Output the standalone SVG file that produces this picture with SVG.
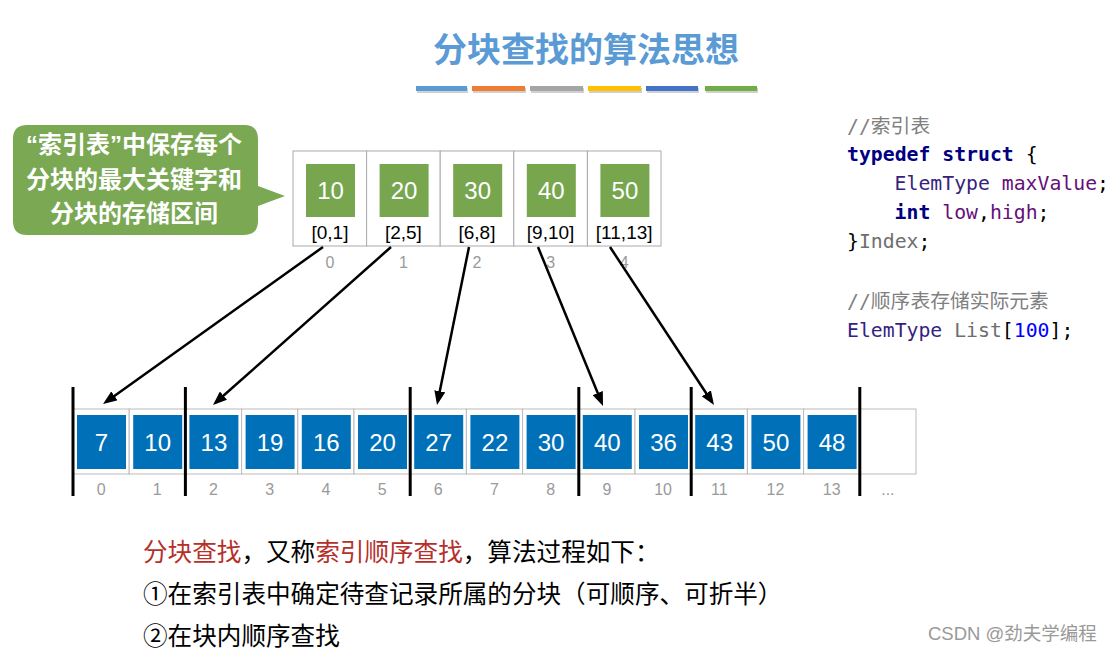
<svg xmlns="http://www.w3.org/2000/svg" width="1114" height="652" viewBox="0 0 1114 652">
<style>
.title{font-family:"Noto Sans CJK SC","Noto Sans",sans-serif;font-weight:bold;font-size:34px;fill:#5B9BD5}
.call{font-family:"Noto Sans CJK SC","Noto Sans",sans-serif;font-weight:bold;font-size:24px;fill:#fff}
.q{font-family:"Liberation Sans","Noto Sans",sans-serif}
.icell{fill:#fff;stroke:#AAAAAA;stroke-width:1}
.gsq{fill:#77A64F}
.bsq{fill:#0071B9}
.wnum{font-family:"Liberation Sans","Noto Sans",sans-serif;font-size:24px;fill:#fff;text-anchor:middle}
.rng{font-family:"Liberation Sans","Noto Sans",sans-serif;font-size:19px;fill:#000;text-anchor:middle}
.idx{font-family:"Liberation Sans","Noto Sans",sans-serif;font-size:16px;fill:#9A9A9A;text-anchor:middle}
.acell{fill:#fff;stroke:#BBBBBB;stroke-width:1}
.bar{stroke:#000;stroke-width:3}
.arr{stroke:#000;stroke-width:2.5;fill:none;marker-end:url(#ah)}
.code{font-family:"DejaVu Sans Mono","Noto Sans CJK SC",monospace;font-size:19.8px}
.cm{fill:#808080}
.kw{fill:#000080;font-weight:bold}
.ty{fill:#371F80}
.fd{fill:#660E7A}
.gr{fill:#6E6E6E}
.bk{fill:#000}
.nm{fill:#0000FF}
.txt{font-family:"Noto Sans CJK SC","Noto Sans",sans-serif;font-size:24.6px;fill:#000}
.red{fill:#B5302A}
.wm{font-family:"Liberation Sans","Noto Sans CJK SC",sans-serif;font-size:18.5px;fill:#999}
</style>
<defs>
<marker id="ah" markerUnits="userSpaceOnUse" markerWidth="14" markerHeight="11" refX="10" refY="5.5" orient="auto">
<path d="M0,0 L14,5.5 L0,11 z" fill="#000"/>
</marker>
</defs>
<rect width="1114" height="652" fill="#fff"/>

<g id="title">
<text class="title" x="586" y="62" text-anchor="middle">分块查找的算法思想</text>
<g fill="#D0D0D0">
<rect x="417" y="88" width="51" height="5"/><rect x="473" y="88" width="53" height="5"/><rect x="531" y="88" width="53" height="5"/><rect x="589" y="88" width="53" height="5"/><rect x="647" y="88" width="52" height="5"/><rect x="706" y="88" width="52" height="5"/>
</g>
<rect x="416" y="86" width="51" height="5" fill="#5B9BD5"/>
<rect x="472" y="86" width="53" height="5" fill="#ED7D31"/>
<rect x="530" y="86" width="53" height="5" fill="#A5A5A5"/>
<rect x="588" y="86" width="53" height="5" fill="#FFC000"/>
<rect x="646" y="86" width="52" height="5" fill="#4472C4"/>
<rect x="705" y="86" width="52" height="5" fill="#70AD47"/>
</g>

<g id="callout">
<path d="M27,125 H244 Q258,125 258,139 V186 L285,196 L258,206 V221 Q258,235 244,235 H27 Q13,235 13,221 V139 Q13,125 27,125 Z" fill="#7AA853"/>
<text class="call" x="134" y="153" text-anchor="middle"><tspan class="q">“</tspan>索引表<tspan class="q">”</tspan>中保存每个</text>
<text class="call" x="134" y="188" text-anchor="middle">分块的最大关键字和</text>
<text class="call" x="134" y="222" text-anchor="middle">分块的存储区间</text>
</g>

<g id="index-table">
<rect class="icell" x="293" y="151" width="73.6" height="95"/>
<rect class="icell" x="366.6" y="151" width="73.6" height="95"/>
<rect class="icell" x="440.2" y="151" width="73.6" height="95"/>
<rect class="icell" x="513.8" y="151" width="73.6" height="95"/>
<rect class="icell" x="587.4" y="151" width="73.6" height="95"/>
<rect class="gsq" x="306" y="164" width="49" height="53"/>
<rect class="gsq" x="379.6" y="164" width="49" height="53"/>
<rect class="gsq" x="453.2" y="164" width="49" height="53"/>
<rect class="gsq" x="526.8" y="164" width="49" height="53"/>
<rect class="gsq" x="600.4" y="164" width="49" height="53"/>
<text class="wnum" x="330.5" y="199">10</text>
<text class="wnum" x="404.1" y="199">20</text>
<text class="wnum" x="477.7" y="199">30</text>
<text class="wnum" x="551.3" y="199">40</text>
<text class="wnum" x="624.9" y="199">50</text>
<text class="rng" x="330" y="239">[0,1]</text>
<text class="rng" x="403.4" y="239">[2,5]</text>
<text class="rng" x="477" y="239">[6,8]</text>
<text class="rng" x="550.6" y="239">[9,10]</text>
<text class="rng" x="624.2" y="239">[11,13]</text>
<text class="idx" x="330" y="268">0</text>
<text class="idx" x="403.4" y="268">1</text>
<text class="idx" x="477" y="268">2</text>
<text class="idx" x="550.6" y="268">3</text>
<text class="idx" x="624.2" y="268">4</text>
</g>

<g id="list-array">
<rect class="acell" x="73" y="409" width="56.2" height="65"/>
<rect class="acell" x="129.2" y="409" width="56.2" height="65"/>
<rect class="acell" x="185.4" y="409" width="56.2" height="65"/>
<rect class="acell" x="241.6" y="409" width="56.2" height="65"/>
<rect class="acell" x="297.8" y="409" width="56.2" height="65"/>
<rect class="acell" x="354" y="409" width="56.2" height="65"/>
<rect class="acell" x="410.2" y="409" width="56.2" height="65"/>
<rect class="acell" x="466.4" y="409" width="56.2" height="65"/>
<rect class="acell" x="522.6" y="409" width="56.2" height="65"/>
<rect class="acell" x="578.8" y="409" width="56.2" height="65"/>
<rect class="acell" x="635" y="409" width="56.2" height="65"/>
<rect class="acell" x="691.2" y="409" width="56.2" height="65"/>
<rect class="acell" x="747.4" y="409" width="56.2" height="65"/>
<rect class="acell" x="803.6" y="409" width="56.2" height="65"/>
<rect class="acell" x="859.8" y="409" width="56.2" height="65"/>
<rect class="bsq" x="77" y="415" width="49" height="54"/>
<rect class="bsq" x="133.2" y="415" width="49" height="54"/>
<rect class="bsq" x="189.4" y="415" width="49" height="54"/>
<rect class="bsq" x="245.6" y="415" width="49" height="54"/>
<rect class="bsq" x="301.8" y="415" width="49" height="54"/>
<rect class="bsq" x="358" y="415" width="49" height="54"/>
<rect class="bsq" x="414.2" y="415" width="49" height="54"/>
<rect class="bsq" x="470.4" y="415" width="49" height="54"/>
<rect class="bsq" x="526.6" y="415" width="49" height="54"/>
<rect class="bsq" x="582.8" y="415" width="49" height="54"/>
<rect class="bsq" x="639" y="415" width="49" height="54"/>
<rect class="bsq" x="695.2" y="415" width="49" height="54"/>
<rect class="bsq" x="751.4" y="415" width="49" height="54"/>
<rect class="bsq" x="807.6" y="415" width="49" height="54"/>
<text class="wnum" x="101.5" y="450.5">7</text>
<text class="wnum" x="157.7" y="450.5">10</text>
<text class="wnum" x="213.9" y="450.5">13</text>
<text class="wnum" x="270.1" y="450.5">19</text>
<text class="wnum" x="326.3" y="450.5">16</text>
<text class="wnum" x="382.5" y="450.5">20</text>
<text class="wnum" x="438.7" y="450.5">27</text>
<text class="wnum" x="494.9" y="450.5">22</text>
<text class="wnum" x="551.1" y="450.5">30</text>
<text class="wnum" x="607.3" y="450.5">40</text>
<text class="wnum" x="663.5" y="450.5">36</text>
<text class="wnum" x="719.7" y="450.5">43</text>
<text class="wnum" x="775.9" y="450.5">50</text>
<text class="wnum" x="832.1" y="450.5">48</text>
<text class="idx" x="101.1" y="495">0</text>
<text class="idx" x="157.3" y="495">1</text>
<text class="idx" x="213.5" y="495">2</text>
<text class="idx" x="269.7" y="495">3</text>
<text class="idx" x="325.9" y="495">4</text>
<text class="idx" x="382.1" y="495">5</text>
<text class="idx" x="438.3" y="495">6</text>
<text class="idx" x="494.5" y="495">7</text>
<text class="idx" x="550.7" y="495">8</text>
<text class="idx" x="606.9" y="495">9</text>
<text class="idx" x="663.1" y="495">10</text>
<text class="idx" x="719.3" y="495">11</text>
<text class="idx" x="775.5" y="495">12</text>
<text class="idx" x="831.7" y="495">13</text>
<text class="idx" x="887.9" y="495">...</text>
<line class="bar" x1="73" y1="387" x2="73" y2="496"/>
<line class="bar" x1="185.4" y1="387" x2="185.4" y2="496"/>
<line class="bar" x1="410.2" y1="387" x2="410.2" y2="496"/>
<line class="bar" x1="578.8" y1="387" x2="578.8" y2="496"/>
<line class="bar" x1="691.2" y1="387" x2="691.2" y2="496"/>
<line class="bar" x1="859.8" y1="387" x2="859.8" y2="496"/>
</g>

<g id="connectors">
<line class="arr" x1="323" y1="247" x2="106.3" y2="401.7"/>
<line class="arr" x1="391" y1="247" x2="216" y2="402.3"/>
<line class="arr" x1="469" y1="247" x2="437.8" y2="401.1"/>
<line class="arr" x1="538" y1="247" x2="601.5" y2="402.3"/>
<line class="arr" x1="610" y1="247" x2="711.8" y2="401.7"/>
</g>

<g id="code" class="code" xml:space="preserve">
<text x="847" y="133" class="cm">//索引表</text>
<text x="847" y="161"><tspan class="kw">typedef</tspan> <tspan class="kw">struct</tspan> <tspan class="bk">{</tspan></text>
<text x="894.6" y="190"><tspan class="ty">ElemType</tspan> <tspan class="fd">maxValue</tspan><tspan class="bk">;</tspan></text>
<text x="894.6" y="219"><tspan class="kw">int</tspan> <tspan class="fd">low</tspan><tspan class="bk">,</tspan><tspan class="fd">high</tspan><tspan class="bk">;</tspan></text>
<text x="847" y="248"><tspan class="bk">}</tspan><tspan class="gr">Index</tspan><tspan class="bk">;</tspan></text>
<text x="847" y="308" class="cm">//顺序表存储实际元素</text>
<text x="847" y="337"><tspan class="ty">ElemType</tspan> <tspan class="gr">List</tspan><tspan class="bk">[</tspan><tspan class="nm">100</tspan><tspan class="bk">];</tspan></text>
</g>

<g id="description">
<text class="txt" x="143" y="561"><tspan class="red">分块查找</tspan>，又称<tspan class="red">索引顺序查找</tspan>，算法过程如下：</text>
<text class="txt" x="143" y="603">①在索引表中确定待查记录所属的分块（可顺序、可折半）</text>
<text class="txt" x="143" y="645">②在块内顺序查找</text>
</g>

<text class="wm" x="928" y="640">CSDN @劲夫学编程</text>
</svg>
